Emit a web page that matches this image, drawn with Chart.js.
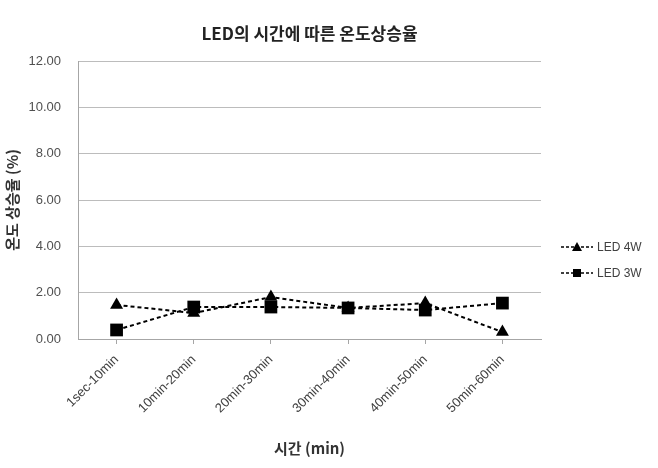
<!DOCTYPE html>
<html>
<head>
<meta charset="utf-8">
<script src="https://cdn.jsdelivr.net/npm/chart.js@4"></script>
<style>
  html, body { margin: 0; padding: 0; background: #fff; }
  #wrap { width: 658px; height: 468px; position: relative; }
</style>
</head>
<body>
<div id="wrap"><canvas id="chart" width="658" height="468"></canvas></div>
<script>
// chart data
const categories = ['1sec-10min', '10min-20min', '20min-30min', '30min-40min', '40min-50min', '50min-60min'];
const led4w = [1.47, 1.12, 1.81, 1.34, 1.55, 0.30];
const led3w = [0.39, 1.38, 1.38, 1.34, 1.25, 1.55];
const seriesNames = ['LED 4W', 'LED 3W'];
const yTicks = [0, 2, 4, 6, 8, 10, 12];

const krFont = "'Noto Sans CJK KR', 'Noto Sans', sans-serif";
const tickFont = "'Liberation Sans', 'Open Sans', sans-serif";

// legend drawn on the right: dashed line, marker, label
const sideLegend = {
  id: 'sideLegend',
  afterDraw(chart) {
    const c = chart.ctx;
    const rows = [247, 273];
    chart.data.datasets.forEach((ds, i) => {
      const y = rows[i];
      c.save();
      c.strokeStyle = '#000';
      c.lineWidth = 1.5;
      c.setLineDash([3, 2]);
      c.beginPath();
      c.moveTo(561, y);
      c.lineTo(593, y);
      c.stroke();
      c.setLineDash([]);
      c.fillStyle = '#000';
      c.beginPath();
      if (ds.pointStyle === 'triangle') {
        c.moveTo(577, y - 5);
        c.lineTo(582, y + 4);
        c.lineTo(572, y + 4);
        c.closePath();
      } else {
        c.rect(573, y - 4, 8, 8);
      }
      c.fill();
      c.fillStyle = '#404040';
      c.font = '12px ' + tickFont;
      c.textBaseline = 'middle';
      c.fillText(ds.label, 597, y + 1);
      c.restore();
    });
  }
};

new Chart(document.getElementById('chart'), {
  type: 'line',
  data: {
    labels: categories,
    datasets: [
      {
        label: seriesNames[0],
        data: led4w,
        borderColor: '#000',
        backgroundColor: '#000',
        borderWidth: 2,
        borderDash: [4, 3],
        pointStyle: 'triangle',
        pointRadius: 7.5,
        pointBorderWidth: 0,
        tension: 0,
        fill: false
      },
      {
        label: seriesNames[1],
        data: led3w,
        borderColor: '#000',
        backgroundColor: '#000',
        borderWidth: 2,
        borderDash: [4, 3],
        pointStyle: 'rect',
        pointRadius: 9,
        pointBorderWidth: 0,
        tension: 0,
        fill: false
      }
    ]
  },
  options: {
    responsive: false,
    animation: false,
    devicePixelRatio: 1,
    layout: { padding: { left: 0, right: 117, top: 0, bottom: 0 } },
    plugins: {
      legend: { display: false },
      tooltip: { enabled: false },
      title: {
        display: true,
        fullSize: false,
        text: 'LED의 시간에 따른 온도상승율',
        color: '#222',
        font: { family: krFont, size: 17, weight: 'bold' },
        padding: { top: 23, bottom: 17.6 }
      }
    },
    scales: {
      x: {
        offset: true,
        grid: {
          offset: false,
          drawOnChartArea: false,
          drawTicks: true,
          tickLength: 5,
          color: '#a6a6a6'
        },
        border: { display: true, color: '#a6a6a6', width: 1 },
        ticks: {
          maxRotation: 45,
          minRotation: 45,
          autoSkip: false,
          padding: 8,
          color: '#404040',
          font: { family: tickFont, size: 13 }
        },
        title: {
          display: true,
          text: '시간 (min)',
          color: '#333',
          font: { family: krFont, size: 15, weight: 'bold' },
          padding: { top: 4, bottom: 11 }
        },
        afterFit(scale) { scale.height = 129; }
      },
      y: {
        min: 0,
        max: 12,
        afterBuildTicks(scale) { scale.ticks = yTicks.map(v => ({ value: v })); },
        grid: {
          drawTicks: false,
          color: '#bcbcbc',
          lineWidth: 1
        },
        border: { display: true, color: '#a6a6a6', width: 1 },
        ticks: {
          padding: 17,
          color: '#505050',
          font: { family: tickFont, size: 13 },
          callback: v => Number(v).toFixed(2)
        },
        title: {
          display: true,
          text: '온도 상승율 (%)',
          color: '#333',
          font: { family: krFont, size: 15, weight: 'bold' },
          padding: { top: 3, bottom: 4 }
        },
        afterFit(scale) { scale.width = 78; }
      }
    }
  },
  plugins: [sideLegend]
});
</script>
</body>
</html>
